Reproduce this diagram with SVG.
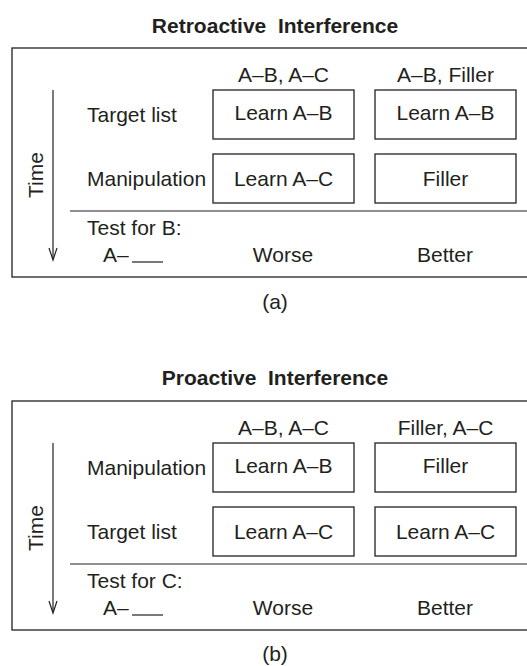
<svg xmlns="http://www.w3.org/2000/svg" width="527" height="666" viewBox="0 0 527 666">
<style>
text { font-family: "Liberation Sans", Arial, sans-serif; font-size: 21px; fill: #231f20; }
.title { font-weight: bold; white-space: pre; text-anchor: middle; }
.mid { text-anchor: middle; }
.frame { fill: none; stroke: #231f20; stroke-width: 1.3; }
.box { fill: #ffffff; stroke: #231f20; stroke-width: 1.3; }
.line { fill: none; stroke: #231f20; stroke-width: 1.2; }
</style>
<rect width="527" height="666" fill="#ffffff"/>

<!-- Panel (a) -->
<g id="panel-a">
  <text class="title" x="275" y="33" xml:space="preserve">Retroactive  Interference</text>
  <rect id="frame-a" class="frame" x="12" y="48" width="530" height="229"/>
  <text class="mid" x="283.5" y="81.5">A–B, A–C</text>
  <text class="mid" x="445.5" y="81.5">A–B, Filler</text>
  <text x="87" y="122">Target list</text>
  <text x="87" y="186">Manipulation</text>
  <text x="87" y="235">Test for B:</text>
  <text x="103" y="262">A–</text>
  <text class="mid" x="283" y="262">Worse</text>
  <text class="mid" x="445" y="262">Better</text>
  <text transform="translate(43,175) rotate(-90)" class="mid">Time</text>
  <text class="mid" x="275" y="309">(a)</text>
</g>
<g id="a-box-11"><rect class="box" x="213" y="90" width="141" height="49"/><text class="mid" x="283.5" y="120">Learn A–B</text></g>
<g id="a-box-12"><rect class="box" x="375" y="90" width="141" height="49"/><text class="mid" x="445.5" y="120">Learn A–B</text></g>
<g id="a-box-21"><rect class="box" x="213" y="154" width="141" height="49"/><text class="mid" x="283.5" y="186">Learn A–C</text></g>
<g id="a-box-22"><rect class="box" x="375" y="154" width="141" height="49"/><text class="mid" x="445.5" y="186">Filler</text></g>

<!-- Panel (b) -->
<g id="panel-b">
  <text class="title" x="275" y="385" xml:space="preserve">Proactive  Interference</text>
  <rect id="frame-b" class="frame" x="12" y="401" width="530" height="229"/>
  <text class="mid" x="283.5" y="434.5">A–B, A–C</text>
  <text class="mid" x="445.5" y="434.5">Filler, A–C</text>
  <text x="87" y="475">Manipulation</text>
  <text x="87" y="539">Target list</text>
  <text x="87" y="588">Test for C:</text>
  <text x="103" y="615">A–</text>
  <text class="mid" x="283" y="615">Worse</text>
  <text class="mid" x="445" y="615">Better</text>
  <text transform="translate(43,528) rotate(-90)" class="mid">Time</text>
  <text class="mid" x="275" y="661">(b)</text>
</g>
<g id="b-box-11"><rect class="box" x="213" y="443" width="141" height="49"/><text class="mid" x="283.5" y="473">Learn A–B</text></g>
<g id="b-box-12"><rect class="box" x="375" y="443" width="141" height="49"/><text class="mid" x="445.5" y="473">Filler</text></g>
<g id="b-box-21"><rect class="box" x="213" y="507" width="141" height="49"/><text class="mid" x="283.5" y="539">Learn A–C</text></g>
<g id="b-box-22"><rect class="box" x="375" y="507" width="141" height="49"/><text class="mid" x="445.5" y="539">Learn A–C</text></g>

<!-- Connectors / lines -->
<g id="connectors">
  <line class="line" x1="53" y1="90" x2="53" y2="259"/>
  <polyline class="line" points="49,248 53,260 57,248"/>
  <line class="line" x1="70" y1="211" x2="527" y2="211"/>
  <line class="line" x1="132" y1="262" x2="163" y2="262"/>

  <line class="line" x1="53" y1="443" x2="53" y2="612"/>
  <polyline class="line" points="49,601 53,613 57,601"/>
  <line class="line" x1="70" y1="564" x2="527" y2="564"/>
  <line class="line" x1="132" y1="615" x2="163" y2="615"/>
</g>
</svg>
